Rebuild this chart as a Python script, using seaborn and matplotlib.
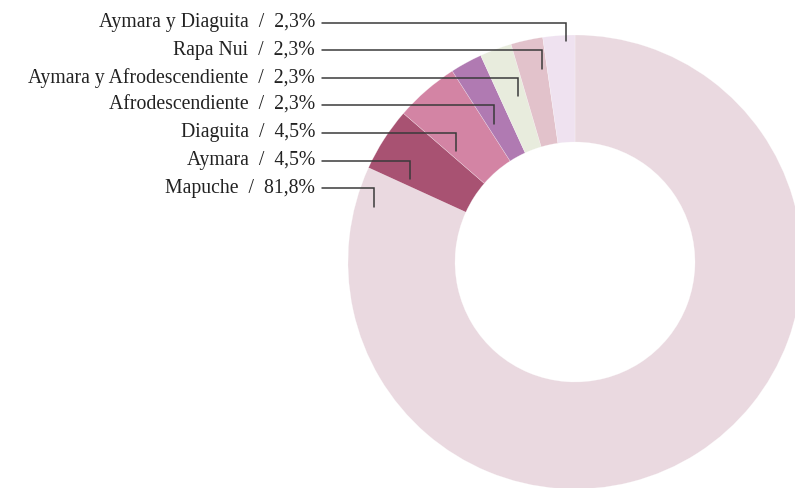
import matplotlib
matplotlib.use("Agg")
import matplotlib.pyplot as plt
import seaborn as sns

# Pueblo originario declarado (n = 44)
groups = ["Mapuche", "Aymara", "Diaguita", "Afrodescendiente",
          "Aymara y Afrodescendiente", "Rapa Nui", "Aymara y Diaguita"]
counts = [36, 2, 2, 1, 1, 1, 1]
colors = ["#ead9e0", "#a85272", "#d384a4", "#b07ab2",
          "#e8ecdd", "#e2c2cb", "#efe2f0"]

sns.set_theme(style="white")
plt.rcParams["font.family"] = ["Liberation Serif", "DejaVu Serif"]

W, H = 795, 488
fig = plt.figure(figsize=(W / 100, H / 100), dpi=100)
ax = fig.add_axes([0, 0, 1, 1])

# ring geometry in pixel units
cx, cy = 575, H - 262
r_out, r_in = 227, 120

ax.pie(counts, colors=colors, startangle=90, counterclock=False,
       radius=r_out, center=(cx, cy), frame=True,
       wedgeprops=dict(width=r_out - r_in, edgecolor=(1, 1, 1, 0.5),
                       linewidth=0.3))

ax.set_xlim(0, W)
ax.set_ylim(0, H)
ax.set_aspect("equal")
ax.axis("off")

# labels stacked top-down from the last slice to the first
row_y = [22.5 + 27.6 * k for k in range(len(groups))]
leader_x = [374, 410, 456, 494, 518, 542, 566]
text_right = 315
line_start = 322
drop = 18.5

total = sum(counts)
for i, (g, c) in enumerate(zip(groups, counts)):
    pct = f"{100 * c / total:.1f}".replace(".", ",")
    y = H - row_y[len(groups) - 1 - i]
    ax.text(text_right, y, f"{g}  /  {pct}%", ha="right", va="center",
            fontsize=14.2, color="#222222")
    lx = leader_x[i]
    ax.plot([line_start, lx, lx], [y, y, y - drop], color="#3a3a3a",
            lw=1.1, solid_joinstyle="miter", zorder=5)

fig.savefig("out.png", dpi=100)
